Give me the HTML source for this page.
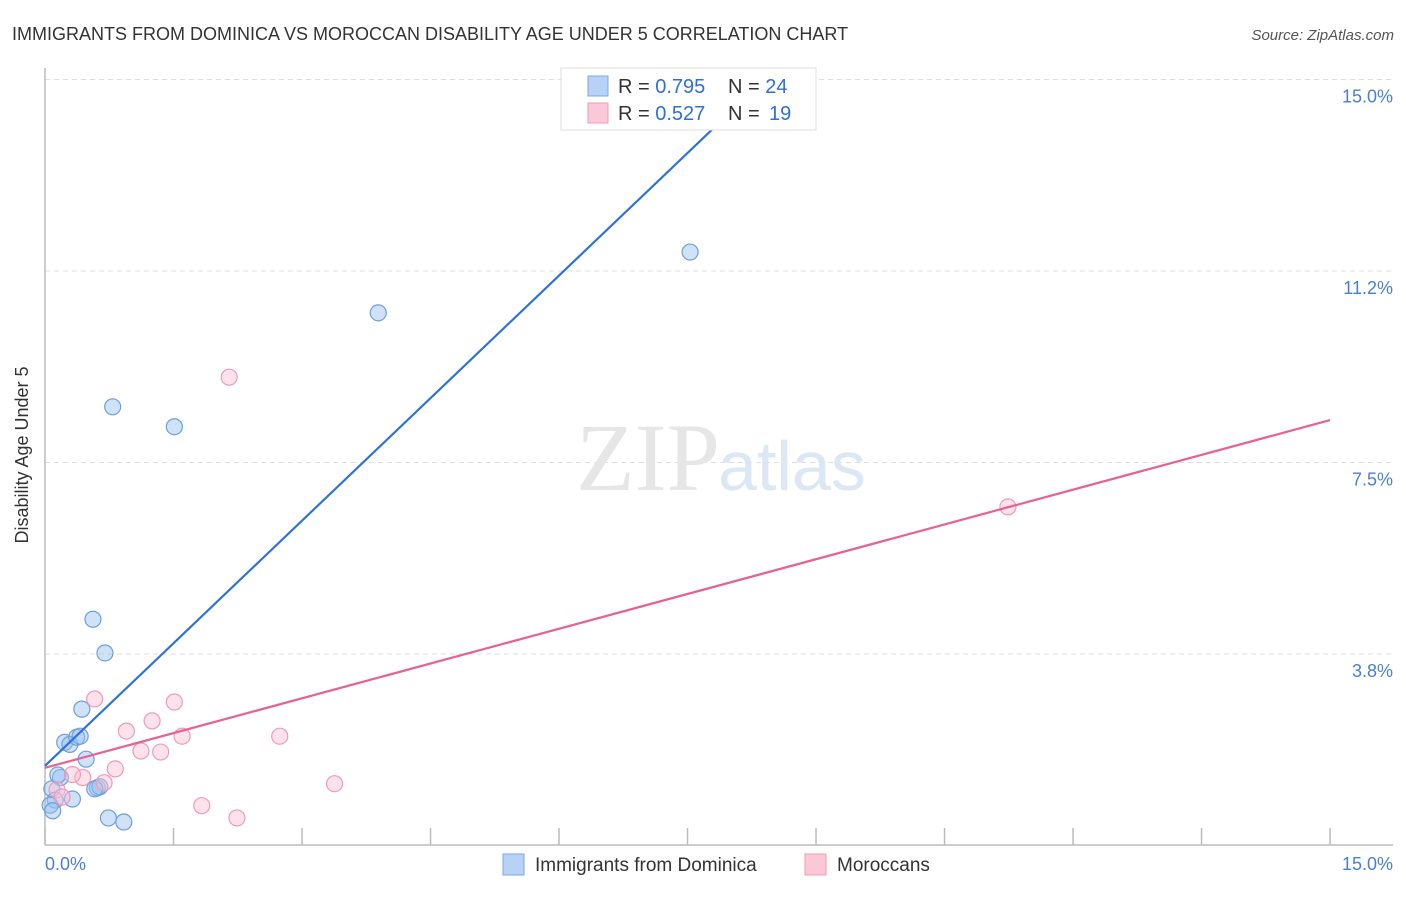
<!DOCTYPE html>
<html><head><meta charset="utf-8"><style>
body{margin:0;background:#fff;font-family:"Liberation Sans",sans-serif;}
</style></head><body>
<svg width="1406" height="892" viewBox="0 0 1406 892" xmlns="http://www.w3.org/2000/svg">
<text x="12" y="40" font-size="18" fill="#333">IMMIGRANTS FROM DOMINICA VS MOROCCAN DISABILITY AGE UNDER 5 CORRELATION CHART</text>
<text x="1394" y="40" font-size="15" fill="#555" font-style="italic" text-anchor="end">Source: ZipAtlas.com</text>
<g id="grid"></g>
<text x="720" y="490" font-size="96" fill="#e6e6e6" text-anchor="end" font-family="Liberation Serif">ZIP</text>
<text x="718" y="490" font-size="70" fill="#dce7f5">atlas</text>
<g id="axes"></g>
<g id="pts"></g>
<g id="lines"></g>
<text x="28" y="455" font-size="18" fill="#333" text-anchor="middle" transform="rotate(-90 28 455)">Disability Age Under 5</text>
<text x="45" y="870" font-size="18" fill="#4a7fd4">0.0%</text>
<text x="1393" y="870" font-size="18" fill="#4a7fd4" text-anchor="end">15.0%</text>
<g>
<rect x="561" y="68" width="255" height="62" fill="#fff" stroke="#ddd"/>
<rect x="588" y="76" width="20" height="20" fill="#b8d2f5" stroke="#7aa8e8"/>
<rect x="588" y="103" width="20" height="20" fill="#fbc8d8" stroke="#f09ab6"/>
<text x="618" y="93" font-size="20" fill="#333">R = <tspan fill="#2f6fd6">0.795</tspan><tspan x="728">N = </tspan><tspan fill="#2f6fd6">24</tspan></text>
<text x="618" y="120" font-size="20" fill="#333">R = <tspan fill="#2f6fd6">0.527</tspan><tspan x="728">N = </tspan><tspan fill="#2f6fd6" x="769">19</tspan></text>
</g>
<g>
<rect x="503" y="854" width="21" height="21" fill="#b8d2f5" stroke="#7aa8e8"/>
<text x="535" y="871" font-size="19" fill="#333">Immigrants from Dominica</text>
<rect x="805" y="854" width="21" height="21" fill="#fbc8d8" stroke="#f09ab6"/>
<text x="837" y="871" font-size="19" fill="#333">Moroccans</text>
</g>
</svg>
<script>
const yTicks=[3.75,7.5,11.25,15];
const yTickLabels=["3.8%","7.5%","11.2%","15.0%"];
const xTicks=[0,1.5,3,4.5,6,7.5,9,10.5,12,13.5,15];
const blueX=[0.79,1.51,3.89,7.53,0.56,0.70,0.43,0.23,0.29,0.37,0.41,0.48,0.61,0.64,0.58,0.18,0.08,0.12,0.32,0.06,0.09,0.74,0.92,0.15];
const blueY=[8.59,8.20,10.43,11.62,4.43,3.77,2.67,2.02,1.98,2.12,2.14,1.69,1.13,1.15,1.11,1.33,1.11,0.89,0.91,0.79,0.68,0.54,0.46,1.38];
const pinkX=[2.15,11.24,0.58,1.51,1.25,0.95,1.60,2.74,1.12,1.35,0.82,0.44,0.32,0.69,3.38,0.14,0.20,1.83,2.24];
const pinkY=[9.17,6.63,2.87,2.81,2.44,2.24,2.14,2.14,1.85,1.83,1.50,1.33,1.39,1.23,1.21,1.09,0.95,0.78,0.54];
const blueLine=[1.56,14.44]; // y at x=0 and x=8.05
const blueLineX=[0,8.05];
const pinkLine=[1.52,8.33];
const pinkLineX=[0,15];
const NS="http://www.w3.org/2000/svg";
const X=v=>45+v*85.67, Y=v=>845.5-v*51.07;
function mk(t,a,p){const e=document.createElementNS(NS,t);for(const k in a)e.setAttribute(k,a[k]);p.appendChild(e);return e;}
const grid=document.getElementById('grid'),axes=document.getElementById('axes'),pts=document.getElementById('pts'),lines=document.getElementById('lines');
yTicks.forEach((t,i)=>{
 const l=mk('line',{x1:45,x2:1393,y1:Y(t),y2:Y(t),stroke:'#ddd','stroke-dasharray':'5,4'},grid);
 
 
 const tx=mk('text',{x:1393,y:Y(t)+23,'font-size':18,fill:'#4a7fd4','text-anchor':'end'},grid);
 tx.textContent=yTickLabels[i];
 
 
});
const ya=mk('line',{x1:45,x2:45,y1:68,y2:845,stroke:'#bbb','stroke-width':1.5},axes);


const xa=mk('line',{x1:45,x2:1393,y1:845,y2:845,stroke:'#bbb','stroke-width':1.5},axes);


xTicks.forEach(t=>{
 const l=mk('line',{x1:X(t),x2:X(t),y1:828,y2:845,stroke:'#bbb','stroke-width':1.5},axes);
 
 
});
blueX.forEach((v,i)=>{
 const c=mk('circle',{cx:X(v),cy:Y(blueY[i]),r:8,fill:'rgba(150,190,240,0.45)',stroke:'#6a9fe0','stroke-width':1.2},pts);
 
 
});
pinkX.forEach((v,i)=>{
 const c=mk('circle',{cx:X(v),cy:Y(pinkY[i]),r:8,fill:'rgba(250,190,210,0.45)',stroke:'#ee9ab5','stroke-width':1.2},pts);
 
 
});
const bl=mk('line',{x1:X(blueLineX[0]),y1:Y(blueLine[0]),x2:X(blueLineX[1]),y2:Y(blueLine[1]),stroke:'#2f72d8','stroke-width':2.2},lines);


const pl=mk('line',{x1:X(pinkLineX[0]),y1:Y(pinkLine[0]),x2:X(pinkLineX[1]),y2:Y(pinkLine[1]),stroke:'#e8628e','stroke-width':2.2},lines);


</script>
</body></html>
